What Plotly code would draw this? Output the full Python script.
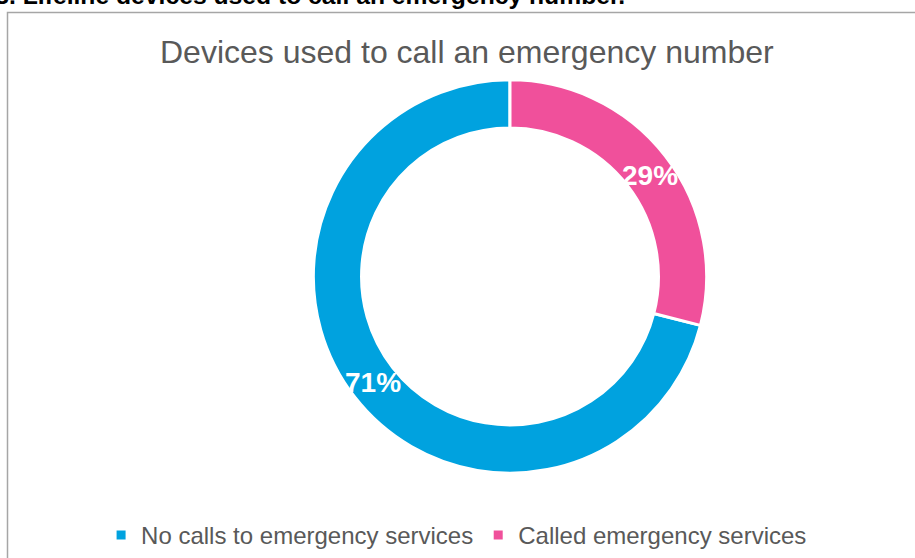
import math
import plotly.graph_objects as go

categories = ["No calls to emergency services", "Called emergency services"]
values = [71, 29]
colors = ["#00A2DF", "#F0509B"]
chart_title = "Devices used to call an emergency number"
caption = "Figure 3. Lifeline devices used to call an emergency number."

W, H = 915, 558
CX, CY = 510, 277          # donut centre in pixels from top-left
R_OUT = 197
HOLE = 0.755

total = sum(values)
f_none = values[0] / total
f_called = values[1] / total

fig = go.Figure()
fig.add_trace(go.Pie(
    labels=categories,
    values=values,
    hole=HOLE,
    sort=False,
    direction="clockwise",
    rotation=360 * f_called,
    marker=dict(colors=colors, line=dict(color="white", width=3)),
    textinfo="none",
    domain=dict(x=[(CX - R_OUT) / W, (CX + R_OUT) / W],
                y=[(H - CY - R_OUT) / H, (H - CY + R_OUT) / H]),
    showlegend=True,
))

# percentage labels placed at the middle of each ring segment (from data)
r_mid = R_OUT * (1 + HOLE) / 2
mid_angles = [90 + 360 * f_none / 2, 90 - 360 * f_called / 2 - 2]
label_annots = []
for v, ang in zip(values, mid_angles):
    px = CX + r_mid * math.cos(math.radians(ang))
    py = CY - r_mid * math.sin(math.radians(ang))
    label_annots.append(dict(
        text=f"<b>{round(100 * v / total)}%</b>", xref="paper", yref="paper",
        x=px / W, y=1 - py / H, xanchor="center", yanchor="middle",
        showarrow=False,
        font=dict(family="Liberation Sans, Arial", size=28, color="white")))

fig.update_layout(
    width=W, height=H,
    margin=dict(l=0, r=0, t=0, b=0),
    paper_bgcolor="white",
    plot_bgcolor="white",
    font=dict(family="Liberation Sans, Arial", color="#595959"),
    legend=dict(
        orientation="h",
        x=0.499, xanchor="center",
        y=(H - 536) / H, yanchor="middle",
        font=dict(size=24, color="#595959"),
    ),
    shapes=[dict(
        type="rect", xref="paper", yref="paper",
        x0=7.5 / W, x1=1.2, y0=-0.2, y1=1 - 12.5 / H,
        line=dict(color="#A6A6A6", width=1.5),
        fillcolor="rgba(0,0,0,0)",
        layer="below",
    )],
    annotations=[
        dict(text=chart_title, xref="paper", yref="paper",
             x=467 / W, y=1 - 52 / H, xanchor="center", yanchor="middle",
             showarrow=False, font=dict(size=32, color="#595959")),
        dict(text="<b>" + caption + "</b>", xref="paper", yref="paper",
             x=627 / W, y=1 - 11 / H, xanchor="right", yanchor="bottom",
             showarrow=False, font=dict(size=24.7, color="black")),
    ] + label_annots,
)

fig.write_html("out.html", config={"displayModeBar": False},
               post_script="document.body.style.margin='0';")
